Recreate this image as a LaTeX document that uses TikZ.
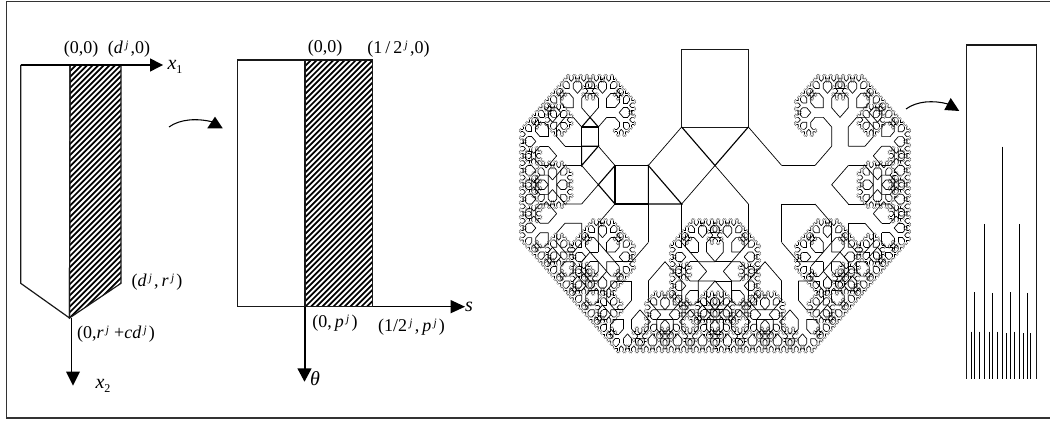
\documentclass[tikz,border=0pt]{standalone}
\usepackage{fontspec}
\setmainfont{Liberation Serif}
\newcommand{\supj}{\raisebox{0.6ex}{\fontsize{8.5}{8.5}\selectfont\hspace{0.2em}\textit{j}}\hspace{0.12em}}
\newcommand{\itx}[1]{\textit{#1}}
\newcommand{\branchdraw}[5]{%
  \ifnum#5>0
  \begingroup
    \edef\vx{\the\numexpr#3-#1\relax}\edef\vy{\the\numexpr#4-#2\relax}%
    \edef\nx{\vy}\edef\ny{\the\numexpr-\vx\relax}%
    \edef\dx{\the\numexpr#1+\nx\relax}\edef\dy{\the\numexpr#2+\ny\relax}%
    \edef\cx{\the\numexpr#3+\nx\relax}\edef\cy{\the\numexpr#4+\ny\relax}%
    \edef\ex{\the\numexpr\dx+(\vx+\nx)/2\relax}\edef\ey{\the\numexpr\dy+(\vy+\ny)/2\relax}%
    \ifnum#5<2 \pgfsetlinewidth{0.45pt}\pgfsetstrokecolor{black!60}\else\pgfsetlinewidth{0.52pt}\pgfsetstrokecolor{black}\fi
    \pgfpathmoveto{\pgfqpoint{#1sp}{#2sp}}\pgfpathlineto{\pgfqpoint{\dx sp}{\dy sp}}%
    \pgfpathmoveto{\pgfqpoint{#3sp}{#4sp}}\pgfpathlineto{\pgfqpoint{\cx sp}{\cy sp}}%
    \pgfusepath{stroke}%
    \edef\nextd{\the\numexpr#5-1\relax}%
    \edef\callA{\noexpand\branchdraw{\dx}{\dy}{\ex}{\ey}{\nextd}}%
    \edef\callB{\noexpand\branchdraw{\ex}{\ey}{\cx}{\cy}{\nextd}}%
    \callA
    \callB
  \endgroup
  \fi}
\tikzset{
  x=0.75pt,y=-0.75pt,
  frameline/.style={line width=0.9pt,black!80},
  shapeline/.style={line width=0.9pt,black!90},
  axisline/.style={line width=0.9pt,black},
  tipfill/.style={fill=black,draw=none},
  lab/.style={inner sep=0pt,font=\fontsize{13.5}{13.5}\selectfont},
  big/.style={inner sep=0pt,font=\fontsize{15}{15}\selectfont},
  hatchline/.style={line width=1.3pt,black},
  barline/.style={line width=0.85pt,black},
  boldline/.style={line width=0.85pt,black},
}
\begin{document}
\begin{tikzpicture}
\useasboundingbox (0,0) rectangle (1050,423);
\fill[white] (0,0) rectangle (1050,423);
% frame
\coordinate (fa) at (1050,1.5);\coordinate (fb) at (6.7,1.5);\coordinate (fc) at (6.7,418);\coordinate (fd) at (1050,418);
\draw[frameline] (fa)--(fb)--(fc)--(fd);
% left figure hatch
\coordinate (la) at (70,65);\coordinate (lb) at (121,65);\coordinate (lc) at (121,283.3);\coordinate (ld) at (69.5,318);\coordinate (le) at (20.7,283.3);\coordinate (lf) at (20.7,65);
\begin{scope}
\clip (la)--(lb)--(lc)--(ld)--cycle;
\foreach \i in {0,...,60}{\draw[hatchline] (130+5.6*\i,0)--(130+5.6*\i-400,400);}
\end{scope}
\draw[shapeline] (lf)--(le)--(ld)--(la);
\draw[shapeline] (la)--(ld)--(lc)--(lb);
\coordinate (xa) at (163,65);\coordinate (xb) at (71.7,385);\coordinate (xbs) at (71.7,318);
\draw[axisline] (lf)--(150,65);
\fill[tipfill] (150,58.3)--(xa)--(150,71.7)--cycle;
\draw[axisline] (xbs)--(71.7,372);
\fill[tipfill] (66,371.7)--(73,385.7)--(80,371.7)--cycle;
% labels left
\node[lab] (t1) at (81,49) {(0,0)};
\node[lab] (t2) at (129,49) {(\itx{d}\supj,0)};
\node[big] (t3) at (175,67) {\itx{x}\raisebox{-0.4ex}{\fontsize{9}{9}\selectfont 1}};
\node[lab] (t4) at (157,282) {(\itx{d}\supj,\,\itx{r}\supj)};
\node[lab] (t5) at (116,334) {(0,\itx{r}\supj\,+\itx{cd}\supj)};
\node[big] (t6) at (103,386) {\itx{x}\raisebox{-0.4ex}{\fontsize{9}{9}\selectfont 2}};
% curved arrow 1
\coordinate (c1a) at (169,127);\coordinate (c1b) at (213,122);
\draw[line width=0.8pt] (c1a) .. controls (180,119) and (197,118) .. (c1b);
\fill[tipfill] (207.3,128.3)--(215,116.7)--(222.7,128.3)--cycle;
% middle figure
\coordinate (ma) at (237.3,60);\coordinate (mb) at (305,60);\coordinate (mc) at (372.7,60);\coordinate (md) at (372.7,306.7);\coordinate (me) at (305,306.7);\coordinate (mf) at (237.3,306.7);
\begin{scope}
\clip (mb) rectangle (md);
\foreach \i in {0,...,60}{\draw[hatchline] (360+5.6*\i,0)--(360+5.6*\i-400,400);}
\end{scope}
\draw[shapeline] (ma)--(mc)--(md)--(mf)--cycle;
\draw[shapeline] (mb)--(me);
\draw[axisline] (md)--(451,306.7);
\fill[tipfill] (450.7,300)--(465,306.7)--(450.7,313.3)--cycle;
\draw[axisline] (me)--(305,369);
\fill[tipfill] (297.3,368.3)--(304.5,381.7)--(311.7,368.3)--cycle;
\node[lab] (t7) at (325,48) {(0,0)};
\node[lab] (t8) at (398.5,49) {(1\,/\,2\supj,0)};
\node[lab] (t9) at (335,323) {(0,\,\itx{p}\supj)};
\node[lab] (t10) at (411.5,327) {(1/2\supj,\,\itx{p}\supj)};
\node[big] (t11) at (469,307) {\itx{s}};
\node[big] (t12) at (315,379) {\itx{θ}};
% fractal
\begin{scope}[cm={0.75,0,0,0.866,(715,127)}]
  \branchdraw{-2184533}{0}{0}{-2184533}{11}
  \branchdraw{0}{-2184533}{2184533}{0}{11}
\end{scope}
% bold chain
\coordinate (b1) at (681.67,49);\coordinate (b2) at (748.33,49);\coordinate (b3) at (748.33,127);\coordinate (b4) at (681.67,127);
\coordinate (b5) at (715,165.5);\coordinate (b6) at (648.33,165.5);\coordinate (b7) at (681.67,204);\coordinate (b8) at (648.33,204);
\coordinate (b9) at (615,165.5);\coordinate (b10) at (615,204);\coordinate (b11) at (598.33,184.75);\coordinate (b12) at (581.67,165.5);\coordinate (b13) at (598.33,146.25);\coordinate (b14) at (581.67,146.25);\coordinate (b15) at (581.67,127);\coordinate (b16) at (598.33,127);\coordinate (b17) at (590,117.4);
\draw[line width=0.7pt,black!90] (b1)--(b2)--(b3)--(b4)--cycle;
\draw[boldline] (b4)--(b5)--(b3);
\draw[boldline] (b6)--(b7)--(b8)--cycle;
\draw[boldline] (b9)--(b6)--(b8)--(b10)--cycle;
\draw[boldline] (b9)--(b11)--(b10);
\draw[boldline] (b12)--(b13)--(b14)--cycle;
\draw[boldline] (b14)--(b15)--(b16)--(b13);
\draw[boldline] (b15)--(b17)--(b16);
% curved arrow 2
\coordinate (c2a) at (906,109);\coordinate (c2b) at (948,104);
\draw[line width=0.8pt] (c2a) .. controls (917,101) and (933,100) .. (c2b);
\fill[tipfill] (944.3,110)--(950.7,98)--(959.3,111)--cycle;
% right box
\coordinate (ra) at (966.5,379);\coordinate (rb) at (966.5,45);\coordinate (rc) at (1036.5,45);\coordinate (rd) at (1036.5,379);
\draw[shapeline] (ra)--(rb)--(rc)--(rd);
\foreach \px/\py in {971.5/331.7,974.5/292.3,979.5/331.7,984.5/224,989.5/331.7,992.5/293,997.5/331.7,1002.5/146.7,1006.5/333.3,1010.5/292.3,1014.5/331.7,1019.5/224,1023.5/333.3,1027.5/293,1030.5/333.3}{
  \draw[barline] (\px,\py)--(\px,379);}
\end{tikzpicture}
\end{document}
